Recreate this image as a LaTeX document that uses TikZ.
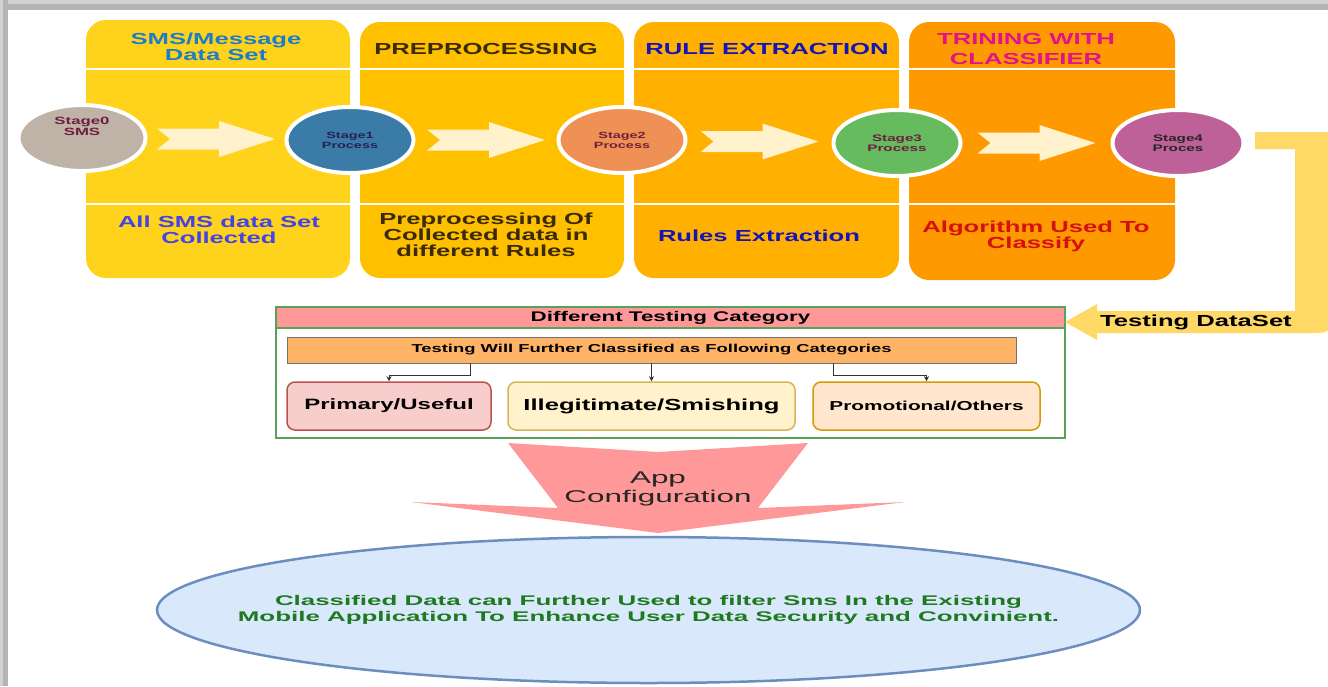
\documentclass[tikz,border=0pt]{standalone}
\usepackage{fontspec}
\setmainfont{Liberation Sans}
\newfontfamily\widefont{Liberation Sans}[FakeStretch=1.6]
\newfontfamily\widerfont{Liberation Sans}[FakeStretch=1.85]
\usetikzlibrary{shapes.geometric,arrows.meta,calc,positioning}

\definecolor{panelA}{HTML}{FFD21B}
\definecolor{panelB}{HTML}{FFC000}
\definecolor{panelC}{HTML}{FFB000}
\definecolor{panelD}{HTML}{FF9900}
\definecolor{stageA}{HTML}{BFB3A8}
\definecolor{stageB}{HTML}{3A7BA8}
\definecolor{stageC}{HTML}{EF9155}
\definecolor{stageD}{HTML}{66BB5E}
\definecolor{stageE}{HTML}{BE6199}
\definecolor{flowcream}{HTML}{FFF2CC}
\definecolor{maroontxt}{HTML}{6E1E40}
\definecolor{navytxt}{HTML}{2A2050}
\definecolor{hdblue}{HTML}{1E7DC8}
\definecolor{ftblue}{HTML}{4444E6}
\definecolor{darkbrown}{HTML}{3A2A05}
\definecolor{ruleblue}{HTML}{1414B8}
\definecolor{magentatxt}{HTML}{E0128C}
\definecolor{redtxt}{HTML}{D41010}
\definecolor{dataset}{HTML}{FFD966}
\definecolor{boxgreen}{HTML}{5AA05A}
\definecolor{headpink}{HTML}{FF9999}
\definecolor{barorange}{HTML}{FFB366}
\definecolor{primfill}{HTML}{F8CECC}
\definecolor{primdraw}{HTML}{B85450}
\definecolor{illfill}{HTML}{FFF2CC}
\definecolor{illdraw}{HTML}{D6B656}
\definecolor{promfill}{HTML}{FFE6CC}
\definecolor{promdraw}{HTML}{D79B00}
\definecolor{appfill}{HTML}{DAE8FC}
\definecolor{appdraw}{HTML}{6C8EBF}
\definecolor{appgreen}{HTML}{1E7A1E}
\definecolor{framelight}{HTML}{D2D2D2}
\definecolor{framedark}{HTML}{B4B4B4}

\tikzset{
  panel/.style={rounded corners=20pt, inner sep=0pt},
  divider/.style={draw=white, line width=1.5pt},
  stage/.style={ellipse, draw=white, line width=4pt, minimum width=127pt, minimum height=66pt,
    inner sep=0pt, align=center, font=\widefont\bfseries\fontsize{9.5}{10}\selectfont},
  paneltext/.style={align=center, inner sep=0pt, font=\widefont\bfseries\fontsize{16}{16}\selectfont},
  flow/.style={fill=flowcream},
  catbox/.style={rounded corners=8pt, line width=1.5pt, minimum height=48pt, inner sep=0pt,
    font=\widefont\bfseries\fontsize{15}{15}\selectfont},
  link/.style={draw=black!80, line width=0.8pt, -{Stealth[length=5pt,width=5pt]}},
}

\begin{document}
\begin{tikzpicture}[x=1pt,y=-1pt]
\useasboundingbox (0,0) rectangle (1328,686);
% frame shadow
\fill[framedark] (0,0) rectangle (1328,10);
\fill[framelight] (0,0) rectangle (1328,4);
\fill[framedark] (0,0) rectangle (8,686);
\fill[framelight] (0,0) rectangle (3,686);

% stage panels
\node[panel, fill=panelA, minimum width=264pt, minimum height=258pt] (p1) at (218,149) {};
\node[panel, fill=panelB, minimum width=264pt, minimum height=256pt] (p2) at (492,150) {};
\node[panel, fill=panelC, minimum width=265pt, minimum height=256pt] (p3) at (766.5,150) {};
\node[panel, fill=panelD, minimum width=266pt, minimum height=258pt] (p4) at (1042,151) {};
\coordinate (dA) at (0,69);
\coordinate (dB) at (0,204);
\foreach \p in {p1,p2,p3,p4}{
  \draw[divider] (\p.west |- dA) -- (\p.east |- dA);
  \draw[divider] (\p.west |- dB) -- (\p.east |- dB);
}

\node[paneltext, text=hdblue] (p1hd) at (216,47) {SMS/Message\\Data Set};
\node[paneltext, text=darkbrown] (p2hd) at (486,49) {PREPROCESSING};
\node[paneltext, text=ruleblue] (p3hd) at (767,49) {RULE EXTRACTION};
\node[paneltext, text=magentatxt, font=\widefont\bfseries\fontsize{16}{20}\selectfont] (p4hd)
  at (1026,49) {TRINING WITH\\CLASSIFIER};
\node[paneltext, text=ftblue] (p1ft) at (219,230) {All SMS data Set\\Collected};
\node[paneltext, text=darkbrown] (p2ft) at (486,235) {Preprocessing Of\\Collected data in\\different Rules};
\node[paneltext, text=ruleblue] (p3ft) at (759,236) {Rules Extraction};
\node[paneltext, text=redtxt] (p4ft) at (1036,236) {Algorithm Used To\\Classify};

% stages
\node[stage, fill=stageA] (s0) at (82,138) {};
\node[font=\widefont\bfseries\fontsize{10.5}{11}\selectfont, align=center, text=maroontxt,
  inner sep=0pt] (s0txt) at ($(s0)+(0,-12)$) {Stage0\\SMS};
\node[stage, fill=stageB, text=navytxt, font=\widefont\bfseries\fontsize{9}{10}\selectfont] (s1)
  at (350,140) {Stage1\\Process};
\node[stage, fill=stageC, text=maroontxt, font=\widefont\bfseries\fontsize{9}{10}\selectfont] (s2)
  at (622,140) {Stage2\\Process};
\node[stage, fill=stageD, text=maroontxt] (s3) at (897,143) {Stage3\\Process};
\node[stage, fill=stageE, text=black!85, minimum width=131pt] (s4) at (1178,143) {Stage4\\Proces};

\foreach \a/\b in {s0/s1,s1/s2,s2/s3,s3/s4}
  \fill[flow] ($(\a.east)!0.5!(\b.west)$) ++(-59,-10.5) -- ++(62,0) -- ++(0,-7.5) -- ++(56,18)
    -- ++(-56,18) -- ++(0,-7.5) -- ++(-62,0) -- ++(13,-10.5) -- cycle;

% testing categories
\node[fill=headpink, draw=boxgreen, line width=1.5pt, minimum width=789pt, minimum height=21pt,
  inner sep=0pt, font=\widefont\bfseries\fontsize{14}{14}\selectfont] (head) at (670.5,317.5)
  {Different Testing Category};
\node[draw=boxgreen, line width=2pt, minimum width=789pt, minimum height=131pt] (cat) at (670.5,372.5) {};
\node[fill=barorange, draw=black!55, line width=0.8pt, minimum width=729pt, minimum height=26pt,
  inner sep=0pt, font=\widefont\bfseries\fontsize{11.5}{11.5}\selectfont] (bar) at (651.5,350)
  {Testing Will Further Classified as Following Categories};
\node[catbox, fill=primfill, draw=primdraw, minimum width=204pt] (prim) at (389,406) {Primary/Useful};
\node[catbox, fill=illfill, draw=illdraw, minimum width=287pt,
  font=\widefont\bfseries\fontsize{16}{16}\selectfont] (ill) at (651.5,406) {Illegitimate/Smishing};
\node[catbox, fill=promfill, draw=promdraw, minimum width=227pt,
  font=\widefont\bfseries\fontsize{13}{13}\selectfont] (prom) at (926.5,406) {Promotional/Others};

\draw[link] ($(bar.south)+(-181.5,0)$) -- ++(0,12) -| (prim.north);
\draw[link] (bar.south) -- (ill.north);
\draw[link] ($(bar.south)+(181.5,0)$) -- ++(0,12) -| (prom.north);

% testing data set arrow
\fill[dataset] (1255,132) -- (1330,132) -- (1330,313) .. controls (1330,333) .. (1310,333)
  -- (1097,333) -- (1097,340) -- (1065,322) -- (1097,304) -- (1097,311) -- (1295,311)
  -- (1295,149) -- (1255,149) -- cycle;
\node[font=\widefont\bfseries\fontsize{16}{16}\selectfont, inner sep=0pt] (tdlabel) at (1196,322) {Testing DataSet};

% app configuration
\fill[headpink] (508,443) -- (658,452) -- (808,443) -- (758,508) -- (905,502) -- (658,533)
  -- (411,502) -- (558,508) -- cycle;
\node[font=\widerfont\fontsize{17}{19}\selectfont, align=center, text=black!85, inner sep=0pt]
  (appcfg) at (658,489) {App\\Configuration};

\node[ellipse, fill=appfill, draw=appdraw, line width=2.5pt, minimum width=983pt, minimum height=146pt,
  inner sep=0pt] (goal) at (648.5,610) {};
\node[align=center, text=appgreen, inner sep=0pt, font=\widerfont\bfseries\fontsize{14}{16}\selectfont]
  (goaltxt) at (goal.center)
  {Classified Data can Further Used to filter Sms In the Existing\\
   Mobile Application To Enhance User Data Security and Convinient.};
\end{tikzpicture}
\end{document}
